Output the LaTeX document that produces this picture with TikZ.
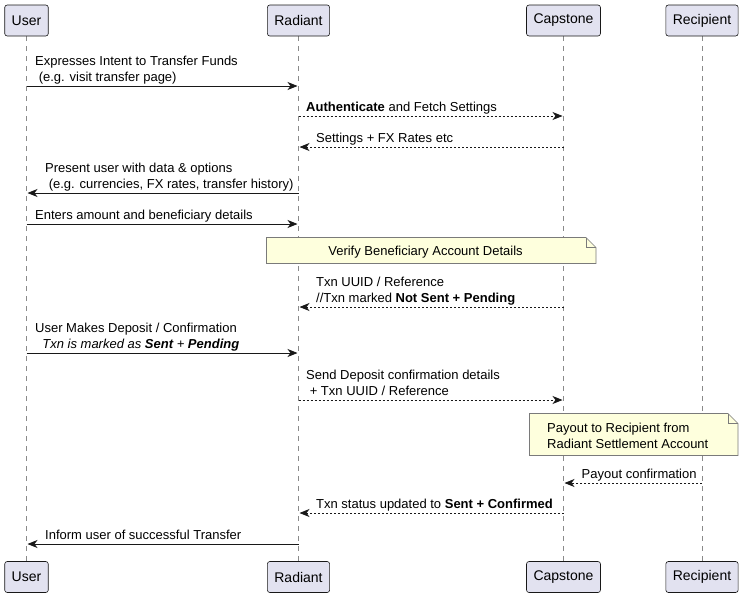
\documentclass[tikz,border=0pt]{standalone}
\usepackage{fontspec}
\setmainfont{Liberation Sans}
\usetikzlibrary{arrows.meta,backgrounds}
\definecolor{partfill}{HTML}{E2E2F0}
\definecolor{ink}{HTML}{181818}
\definecolor{notefill}{HTML}{FEFFDD}
\definecolor{lifegray}{HTML}{8A8A8A}
\definecolor{notegray}{HTML}{7A7A7A}
\newcommand{\ml}[1]{\begin{tabular}[b]{@{}l@{}}#1\end{tabular}}
\tikzset{
  part/.style={draw=ink, fill=partfill, rounded corners=2.5pt, line width=0.6pt,
    font=\fontsize{14}{17}\selectfont, inner xsep=7pt, inner ysep=0pt, minimum height=31pt},
  life/.style={draw=lifegray, line width=0.6pt, dash pattern=on 5pt off 5pt},
  msg/.style={draw=ink, line width=0.9pt, shorten >=1pt,
    -{Stealth[length=10pt,width=8pt,inset=3pt]}},
  dmsg/.style={msg, dash pattern=on 2pt off 2pt},
  lbl/.style={anchor=base west, inner sep=0pt, font=\fontsize{13}{16}\selectfont},
  notebg/.style={draw=notegray, fill=notefill, line width=0.6pt},
  notetxt/.style={inner sep=0pt, font=\fontsize{13}{16}\selectfont},
}
\begin{document}
\begin{tikzpicture}[x=1pt,y=-1pt]
\useasboundingbox (0,0) rectangle (744,597);
% participants
\node[part] (u1) at (26.5,20.5) {User};
\node[part] (r1) at (298.5,20.5) {Radiant};
\node[part] (c1) at (563.5,20.5) {Capstone};
\node[part] (p1) at (702,20.5) {Recipient};
\node[part] (u2) at (26.5,577) {User};
\node[part] (r2) at (298.5,577) {Radiant};
\node[part] (c2) at (563.5,577) {Capstone};
\node[part] (p2) at (702,577) {Recipient};
% lifelines
\begin{scope}[on background layer]
\draw[life] (u1.south) -- (u2.north);
\draw[life] (r1.south) -- (r2.north);
\draw[life] (c1.south) -- (c2.north);
\draw[life] (p1.south) -- (p2.north);
\end{scope}
% message endpoints on the lifelines
\foreach \n/\y in {1/86,2/116,3/147,4/193,5/224,7/307,8/353,9/400,11/483,12/513,13/544}{
  \path (u1.south |- 0,\y) coordinate (mu\n)
        (r1.south |- 0,\y) coordinate (mr\n)
        (c1.south |- 0,\y) coordinate (mc\n)
        (p1.south |- 0,\y) coordinate (mp\n);
}
% 1
\draw[msg] (mu1) -- (mr1);
\node[lbl] (t1) at (35,81) {\ml{Expresses Intent to Transfer Funds\\\hspace*{3.6pt}(e.g. visit transfer page)}};
% 2
\draw[dmsg] (mr2) -- (mc2);
\node[lbl] (t2) at (306,111) {\textbf{Authenticate} and Fetch Settings};
% 3
\draw[dmsg] (mc3) -- (mr3);
\node[lbl] (t3) at (316,142) {Settings + FX Rates etc};
% 4
\draw[msg] (mr4) -- (mu4);
\node[lbl] (t4) at (45,188) {\ml{Present user with data \& options\\\hspace*{3.6pt}(e.g. currencies, FX rates, transfer history)}};
% 5
\draw[msg] (mu5) -- (mr5);
\node[lbl] (t5) at (35,219) {Enters amount and beneficiary details};
% note 1
\begin{scope}[on background layer]
\draw[notebg] (266.5,237.5) -- (586,237.5) -- (596,247.5) -- (596,263.5) -- (266.5,263.5) -- cycle;
\draw[notebg, fill=none] (586,237.5) -- (586,247.5) -- (596,247.5);
\end{scope}
\node[notetxt, anchor=base] (n1) at (425.5,255.5) {Verify Beneficiary Account Details};
% 7
\draw[dmsg] (mc7) -- (mr7);
\node[lbl] (t7) at (316,302) {\ml{Txn UUID / Reference\\//Txn marked \textbf{Not Sent + Pending}}};
% 8
\draw[msg] (mu8) -- (mr8);
\node[lbl] (t8) at (35,348) {\ml{User Makes Deposit / Confirmation\\\hspace*{7.2pt}\textit{Txn is marked as \textbf{Sent} + \textbf{Pending}}}};
% 9
\draw[dmsg] (mr9) -- (mc9);
\node[lbl] (t9) at (306,395) {\ml{Send Deposit confirmation details\\\hspace*{3.6pt}+ Txn UUID / Reference}};
% note 2
\begin{scope}[on background layer]
\draw[notebg] (529.5,413.5) -- (728,413.5) -- (738,423.5) -- (738,455.5) -- (529.5,455.5) -- cycle;
\draw[notebg, fill=none] (728,413.5) -- (728,423.5) -- (738,423.5);
\end{scope}
\node[lbl] (n2) at (547,448) {\ml{Payout to Recipient from\\Radiant Settlement Account}};
% 11
\draw[dmsg] (mp11) -- (mc11);
\node[lbl] (t11) at (581.5,478) {Payout confirmation};
% 12
\draw[dmsg] (mc12) -- (mr12);
\node[lbl] (t12) at (316,508) {Txn status updated to \textbf{Sent + Confirmed}};
% 13
\draw[msg] (mr13) -- (mu13);
\node[lbl] (t13) at (45,539) {Inform user of successful Transfer};
\end{tikzpicture}
\end{document}
